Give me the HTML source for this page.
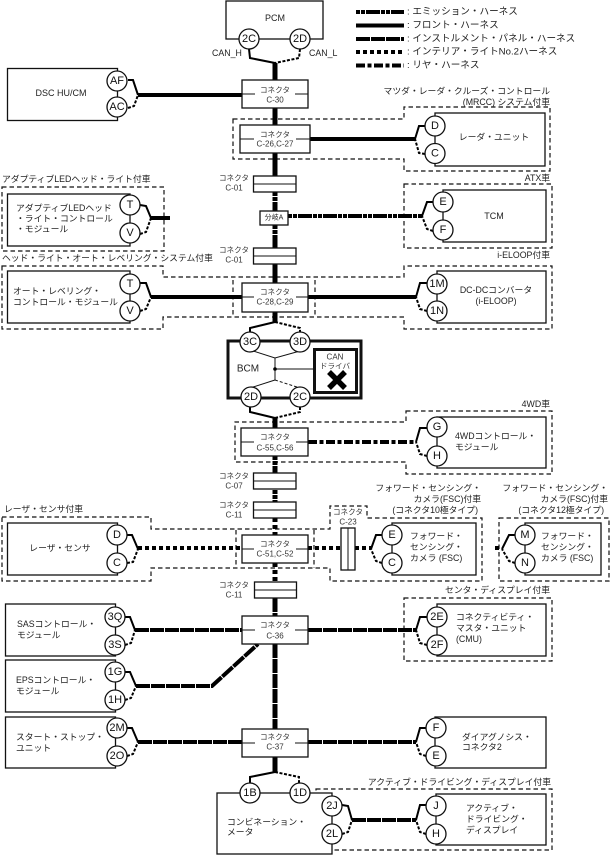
<!DOCTYPE html>
<html><head><meta charset="utf-8">
<style>
html,body{margin:0;padding:0;background:#fff;width:610px;height:855px;overflow:hidden}
svg{display:block}
text{font-family:"Liberation Sans","Noto Sans CJK JP",sans-serif;font-size:8.8px;fill:#222;dominant-baseline:central}
.m{text-anchor:middle}
.e{text-anchor:end}
.c{font-size:7.6px;text-anchor:middle;fill:#333}
.n{font-size:8px;text-anchor:middle;fill:#333}
.p{font-size:11px;text-anchor:middle;fill:#111}
.k{font-size:9.6px}
.b{fill:#fff;stroke:#111;stroke-width:1.3}
.o{fill:none;stroke:#111;stroke-width:1.2;stroke-dasharray:4.5 3}
.f{fill:none;stroke:#000;stroke-width:2}
.d{fill:none;stroke:#000;stroke-width:2;stroke-dasharray:3 1.6}
.t{fill:none;stroke:#000;stroke-width:5}
.h{fill:none;stroke:#000;stroke-width:4}
.em{stroke-dasharray:4 1 4 1 14 1}
.ip{stroke-dasharray:14 1}
.it{stroke-dasharray:4 3}
.re{stroke-dasharray:9 2.5 4 2.5}
circle{fill:#fff;stroke:#111;stroke-width:1.3}
.l{fill:none;stroke:#111;stroke-width:1}
</style></head><body>
<svg width="610" height="855" viewBox="0 0 610 855" xmlns="http://www.w3.org/2000/svg">
<!-- dashed groups -->
<path class="o" d="M233 119H404V107H550V171H404V159H233Z"/>
<path class="o" d="M2 187H164V251H2Z"/>
<path class="o" d="M404 184H552V248H404Z"/>
<path class="o" d="M2 266H163V277H404V266H552V329H404V317H163V329H2Z"/>
<path class="o" d="M233 280V317M315 280V317"/>
<path class="o" d="M406 411H552V474H406V462H235V422H406Z"/>
<path class="o" d="M2 517H151V529H330V506H367V518H482V581H330V568H151V581H2Z"/>
<path class="o" d="M236 530V568M314 530V568"/>
<path class="o" d="M499 518H609V581H499Z"/>
<path class="o" d="M404 598H552V661H404Z"/>
<path class="o" d="M316 789H552V850H316Z"/>

<!-- trunk -->
<path class="t" d="M275 63V125M275 153V176"/>
<path class="t em" d="M275 192V211"/>
<path class="t em" d="M275 225V248"/>
<path class="t" d="M275 264V283M275 312V322M275 418V428"/>
<path class="t em" d="M275 456V473M275 490V502"/>
<path class="t it" d="M275 518V535M275 563V582"/>
<path class="t ip" d="M275 598V616"/>
<path class="t ip" d="M275 644V729"/>
<path class="t" d="M275 757V772"/>

<!-- horizontal harnesses -->
<path class="h" d="M138 95H243"/>
<path class="h" d="M310 139H415"/>
<path class="h" d="M151 218H170"/>
<path class="h em" d="M288 216H422"/>
<path class="h" d="M151 297H242M308 297H416"/>
<path class="h re" d="M308 442H416"/>
<path class="h it" d="M138 548H242M308 548H341M355 548H371M495 548H502"/>
<path class="h ip" d="M135 630H242M308 630H416"/>
<path class="h ip" d="M136 686H212L258 644"/>
<path class="h ip" d="M138 742H242M308 742H416"/>
<path class="h ip" d="M352 820H416"/>

<!-- forks -->
<path class="f" d="M249 49L250 58L275 63"/><path class="d" d="M300 49L299 58L275 63"/>
<path class="f" d="M128 80H133L138 95"/><path class="d" d="M128 108L134 106L138 95"/>
<path class="f" d="M425 126H419L415 139"/><path class="d" d="M425 154L419 153L415 139"/>
<path class="f" d="M140 205L146 206L151 218"/><path class="d" d="M140 234L146 232L151 218"/>
<path class="f" d="M433 202H427L422 216"/><path class="d" d="M433 231L427 229L422 216"/>
<path class="f" d="M140 283H146L151 297"/><path class="d" d="M140 311L146 309L151 297"/>
<path class="f" d="M427 283H420L416 297"/><path class="d" d="M427 311L420 309L416 297"/>
<path class="f" d="M275 322L250 328V333"/><path class="d" d="M275 322L300 328V333"/>
<path class="f" d="M250 407V412L275 418"/><path class="d" d="M300 407V412L275 418"/>
<path class="f" d="M427 428H420L416 442"/><path class="d" d="M427 456L420 454L416 442"/>
<path class="f" d="M127 535H132L138 549"/><path class="d" d="M127 563L133 562L138 549"/>
<path class="f" d="M382 535H376L371 549"/><path class="d" d="M382 563L376 561L371 549"/>
<path class="f" d="M515 535H509L502 549"/><path class="d" d="M515 563L509 561L502 549"/>
<path class="f" d="M125 617H130L135 630"/><path class="d" d="M125 645L131 643L135 630"/>
<path class="f" d="M427 617H420L416 630"/><path class="d" d="M427 645L420 643L416 630"/>
<path class="f" d="M125 672H130L136 686"/><path class="d" d="M125 700L131 698L136 686"/>
<path class="f" d="M127 728H132L138 742"/><path class="d" d="M127 756L133 754L138 742"/>
<path class="f" d="M426 728H420L416 742"/><path class="d" d="M426 756L420 754L416 742"/>
<path class="f" d="M275 772L250 777V783"/><path class="d" d="M275 772L299 777V783"/>
<path class="f" d="M342 805L348 806L352 820"/><path class="d" d="M342 834L348 832L352 820"/>
<path class="f" d="M426 805H420L416 820"/><path class="d" d="M426 834L420 832L416 820"/>

<!-- module boxes -->
<rect class="b" x="226" y="1" width="97" height="38"/><text class="m" x="275" y="18" style="font-size:9px">PCM</text>
<rect class="b" x="7.500" y="68.500" width="110" height="52"/><text class="m" x="61" y="93" style="font-size:9px">DSC HU/CM</text>
<rect class="b" x="435" y="113" width="110" height="53"/><text class="m" x="494" y="137">レーダ・ユニット</text>
<rect class="b" x="7.500" y="194" width="122.500" height="52"/>
<text x="16" y="208">アダプティブLEDヘッド</text><text x="16" y="218.500">・ライト・コントロール</text><text x="16" y="229">・モジュール</text>
<rect class="b" x="443" y="190" width="103" height="52"/><text class="m" x="494" y="216" style="font-size:9px">TCM</text>
<rect class="b" x="7.500" y="271" width="122.500" height="52"/>
<text x="13" y="291">オート・レベリング・</text><text x="13" y="302">コントロール・モジュール</text>
<rect class="b" x="437" y="271" width="109" height="52"/>
<text class="m" x="496" y="290">DC-DCコンバータ</text><text class="m" x="496" y="301">(i-ELOOP)</text>
<rect class="b" x="437" y="417" width="109" height="51"/>
<text x="455" y="436">4WDコントロール・</text><text x="455" y="447">モジュール</text>
<rect class="b" x="7.500" y="523" width="110" height="52"/><text class="m" x="60" y="548">レーザ・センサ</text>
<rect class="b" x="392" y="523" width="84" height="52"/>
<text x="410" y="536">フォワード・</text><text x="410" y="547">センシング・</text><text x="410" y="558">カメラ (FSC)</text>
<rect class="b" x="525" y="523" width="76" height="52"/>
<text x="541" y="536">フォワード・</text><text x="541" y="547">センシング・</text><text x="541" y="558">カメラ (FSC)</text>
<rect class="b" x="5.500" y="604" width="110" height="52"/>
<text x="17" y="624">SASコントロール・</text><text x="17" y="635">モジュール</text>
<rect class="b" x="437" y="604" width="109" height="52"/>
<text x="456" y="617">コネクティビティ・</text><text x="456" y="628">マスタ・ユニット</text><text x="456" y="639">(CMU)</text>
<rect class="b" x="5.500" y="660" width="110" height="52"/>
<text x="16" y="680">EPSコントロール・</text><text x="16" y="691">モジュール</text>
<rect class="b" x="5.500" y="717" width="110" height="51"/>
<text x="16" y="737">スタート・ストップ・</text><text x="16" y="748">ユニット</text>
<rect class="b" x="435" y="717" width="111" height="51"/>
<text x="462" y="737">ダイアグノシス・</text><text x="462" y="747">コネクタ2</text>
<rect class="b" x="217" y="793" width="115" height="61"/>
<text x="227" y="822">コンビネーション・</text><text x="227" y="832">メータ</text>
<rect class="b" x="436" y="794" width="110" height="51"/>
<text x="466" y="808">アクティブ・</text><text x="466" y="819">ドライビング・</text><text x="466" y="830">ディスプレイ</text>

<!-- connector boxes -->
<g>
<rect class="b" x="242" y="80" width="66" height="28"/><path class="l" d="M242 94H255M295 94H308"/><text class="c" x="275" y="90">コネクタ</text><text class="n" x="275" y="100">C-30</text>
<rect class="b" x="240" y="125" width="70" height="28"/><path class="l" d="M240 139H254M296 139H310"/><text class="c" x="275" y="134.500">コネクタ</text><text class="n" x="275" y="144">C-26,C-27</text>
<rect class="b" x="242" y="283" width="66" height="29"/><path class="l" d="M242 297H254M296 297H308"/><text class="c" x="275" y="292">コネクタ</text><text class="n" x="275" y="302">C-28,C-29</text>
<rect class="b" x="241" y="428" width="67" height="28"/><path class="l" d="M241 442H254M296 442H308"/><text class="c" x="275" y="437">コネクタ</text><text class="n" x="275" y="448">C-55,C-56</text>
<rect class="b" x="242" y="535" width="66" height="28"/><path class="l" d="M242 549H254M296 549H308"/><text class="c" x="275" y="544">コネクタ</text><text class="n" x="275" y="554">C-51,C-52</text>
<rect class="b" x="242" y="616" width="66" height="28"/><path class="l" d="M242 630H255M295 630H308"/><text class="c" x="275" y="625">コネクタ</text><text class="n" x="275" y="636">C-36</text>
<rect class="b" x="242" y="729" width="66" height="28"/><path class="l" d="M242 743H255M295 743H308"/><text class="c" x="275" y="737">コネクタ</text><text class="n" x="275" y="747">C-37</text>
</g>
<g>
<rect class="b" x="253.500" y="176" width="42.500" height="16"/><path class="l" d="M253.500 184H296"/>
<rect class="b" x="253.500" y="248" width="42.500" height="16"/><path class="l" d="M253.500 256H296"/>
<rect class="b" x="253.500" y="473" width="42.500" height="16"/><path class="l" d="M253.500 481H296"/>
<rect class="b" x="253.500" y="502" width="42.500" height="16"/><path class="l" d="M253.500 510H296"/>
<rect class="b" x="254.500" y="582" width="42" height="16"/><path class="l" d="M254.500 590H296.500"/>
<rect class="b" x="341" y="528" width="14" height="42"/><path class="l" d="M348 528V570"/>
<rect class="b" x="260" y="211" width="28" height="14"/><text class="m" x="274" y="218" style="font-size:7px">分岐A</text>
</g>
<text class="c" x="234" y="178">コネクタ</text><text class="n" x="234" y="188">C-01</text>
<text class="c" x="234" y="250">コネクタ</text><text class="n" x="234" y="260">C-01</text>
<text class="c" x="234" y="476">コネクタ</text><text class="n" x="234" y="486">C-07</text>
<text class="c" x="234" y="505">コネクタ</text><text class="n" x="234" y="515">C-11</text>
<text class="c" x="234" y="585">コネクタ</text><text class="n" x="234" y="595">C-11</text>
<text class="c" x="348" y="512">コネクタ</text><text class="n" x="348" y="522">C-23</text>

<!-- BCM -->
<path fill="none" stroke="#111" stroke-width="3" d="M228 341H361V398H228Z"/>
<path class="l" d="M250 350L275 358L300 351"/>
<path class="l" d="M275 358V380L250 388M275 369H314"/>
<path class="l" stroke-dasharray="3 2" d="M275 380L300 388"/>
<circle cx="275" cy="369" r="1.800" style="fill:#000;stroke:none"/>
<rect x="314.500" y="349.500" width="42" height="43" fill="#fff" stroke="#111" stroke-width="3"/>
<text class="c" x="335" y="357" style="font-size:8px">CAN</text><text class="c" x="335" y="366">ドライバ</text>
<path stroke="#000" stroke-width="5.500" fill="none" d="M329 372L345 388M345 372L329 388"/>
<text class="m" x="248" y="369" style="font-size:10px">BCM</text>

<!-- pins -->
<g>
<circle cx="249" cy="39" r="10"/><circle cx="300" cy="39" r="10"/>
<circle cx="117" cy="81" r="10"/><circle cx="117" cy="107" r="10"/>
<circle cx="435" cy="126" r="10"/><circle cx="435" cy="153.500" r="10"/>
<circle cx="130" cy="205" r="10"/><circle cx="130" cy="233" r="10"/>
<circle cx="443" cy="202" r="10"/><circle cx="443" cy="230" r="10"/>
<circle cx="130" cy="284" r="10"/><circle cx="130" cy="311" r="10"/>
<circle cx="437" cy="284" r="10"/><circle cx="437" cy="311" r="10"/>
<circle cx="250" cy="342" r="10"/><circle cx="300" cy="342" r="10"/>
<circle cx="251" cy="397" r="10"/><circle cx="300" cy="397" r="10"/>
<circle cx="437" cy="427" r="10"/><circle cx="437" cy="456" r="10"/>
<circle cx="117" cy="535" r="10"/><circle cx="117" cy="563" r="10"/>
<circle cx="392" cy="535" r="10"/><circle cx="392" cy="563" r="10"/>
<circle cx="525" cy="535" r="10"/><circle cx="525" cy="563" r="10"/>
<circle cx="115" cy="617" r="10"/><circle cx="115" cy="645" r="10"/>
<circle cx="437" cy="617" r="10"/><circle cx="437" cy="645" r="10"/>
<circle cx="115" cy="672" r="10"/><circle cx="115" cy="700" r="10"/>
<circle cx="117" cy="728" r="10"/><circle cx="117" cy="756" r="10"/>
<circle cx="436" cy="728" r="10"/><circle cx="436" cy="756" r="10"/>
<circle cx="250" cy="793" r="10"/><circle cx="300" cy="793" r="10"/>
<circle cx="332" cy="806" r="10"/><circle cx="332" cy="834" r="10"/>
<circle cx="436" cy="806" r="10"/><circle cx="436" cy="834" r="10"/>
</g>
<g>
<text class="p" x="249" y="39">2C</text><text class="p" x="300" y="39">2D</text>
<text class="p" x="117" y="81">AF</text><text class="p" x="117" y="107">AC</text>
<text class="p" x="435" y="126">D</text><text class="p" x="435" y="153.500">C</text>
<text class="p" x="130" y="205">T</text><text class="p" x="130" y="233">V</text>
<text class="p" x="443" y="202">E</text><text class="p" x="443" y="230">F</text>
<text class="p" x="130" y="284">T</text><text class="p" x="130" y="311">V</text>
<text class="p" x="437" y="284">1M</text><text class="p" x="437" y="311">1N</text>
<text class="p" x="250" y="342">3C</text><text class="p" x="300" y="342">3D</text>
<text class="p" x="251" y="397">2D</text><text class="p" x="300" y="397">2C</text>
<text class="p" x="437" y="427">G</text><text class="p" x="437" y="456">H</text>
<text class="p" x="117" y="535">D</text><text class="p" x="117" y="563">C</text>
<text class="p" x="392" y="535">E</text><text class="p" x="392" y="563">C</text>
<text class="p" x="525" y="535">M</text><text class="p" x="525" y="563">N</text>
<text class="p" x="115" y="617">3Q</text><text class="p" x="115" y="645">3S</text>
<text class="p" x="437" y="617">2E</text><text class="p" x="437" y="645">2F</text>
<text class="p" x="115" y="672">1G</text><text class="p" x="115" y="700">1H</text>
<text class="p" x="117" y="728">2M</text><text class="p" x="117" y="756">2O</text>
<text class="p" x="436" y="728">F</text><text class="p" x="436" y="756">E</text>
<text class="p" x="250" y="793">1B</text><text class="p" x="300" y="793">1D</text>
<text class="p" x="332" y="806">2J</text><text class="p" x="332" y="834">2L</text>
<text class="p" x="436" y="806">J</text><text class="p" x="436" y="834">H</text>
</g>

<!-- titles -->
<text x="212" y="53" style="font-size:8.800px">CAN_H</text>
<text x="309" y="53" style="font-size:8.800px">CAN_L</text>
<text class="e" x="550" y="91">マツダ・レーダ・クルーズ・コントロール</text>
<text class="e" x="550" y="102">(MRCC) システム付車</text>
<text class="e" x="550" y="178">ATX車</text>
<text x="2" y="179">アダプティブLEDヘッド・ライト付車</text>
<text x="2" y="258">ヘッド・ライト・オート・レベリング・システム付車</text>
<text class="e" x="550" y="255">i-ELOOP付車</text>
<text class="e" x="550" y="404">4WD車</text>
<text x="4" y="509">レーザ・センサ付車</text>
<text class="e" x="481" y="488">フォワード・センシング・</text>
<text class="e" x="481" y="499">カメラ(FSC)付車</text>
<text class="e" x="478" y="510">(コネクタ10極タイプ)</text>
<text class="e" x="608" y="488">フォワード・センシング・</text>
<text class="e" x="608" y="499">カメラ(FSC)付車</text>
<text class="e" x="604" y="510">(コネクタ12極タイプ)</text>
<text class="e" x="550" y="590">センタ・ディスプレイ付車</text>
<text class="e" x="551" y="782">アクティブ・ドライビング・ディスプレイ付車</text>

<!-- legend -->
<path class="h em" d="M356 12H404"/>
<path class="h" d="M356 25.500H404"/>
<path class="h ip" d="M356 39H404"/>
<path class="h it" d="M356 52H404"/>
<path class="h re" d="M356 65.500H404"/>
<text class="k" x="407" y="12">: エミッション・ハーネス</text>
<text class="k" x="407" y="25.500">: フロント・ハーネス</text>
<text class="k" x="407" y="39">: インストルメント・パネル・ハーネス</text>
<text class="k" x="407" y="52">: インテリア・ライトNo.2ハーネス</text>
<text class="k" x="407" y="65.500">: リヤ・ハーネス</text>
</svg>
</body></html>
